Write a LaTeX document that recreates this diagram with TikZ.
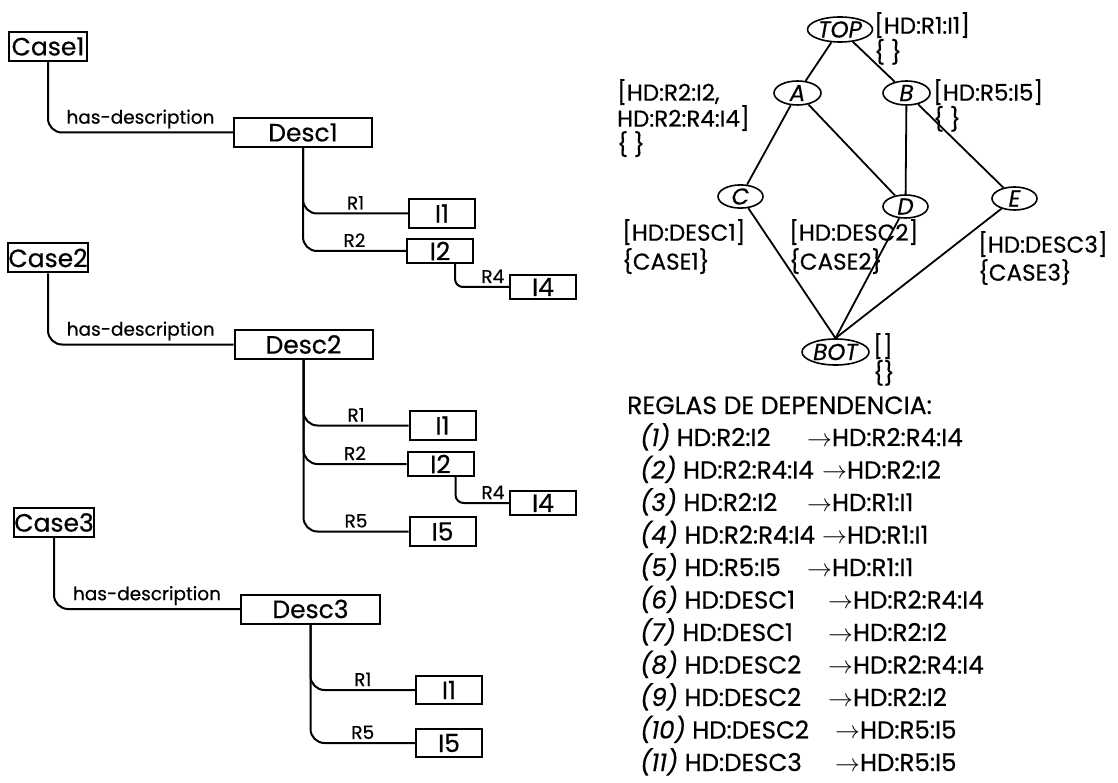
\documentclass[tikz,border=0pt]{standalone}
\usepackage{fontspec}
\setmainfont{Poppins}[FakeBold=0.5]
\usetikzlibrary{shapes.geometric}
\tikzset{
    box/.style={draw, line width=2pt, inner sep=0pt, minimum height=29pt, font=\fontsize{25}{26}\selectfont},
    casebox/.style={box, minimum width=78pt},
    descbox/.style={box, minimum width=138pt},
    itembox/.style={box, minimum width=66pt},
    link/.style={line width=2pt, rounded corners=14pt},
    rel/.style={above=3pt, inner sep=0pt, font=\fontsize{18.5}{20}\selectfont},
    cls/.style={ellipse, draw, line width=1.6pt, inner sep=0pt, font=\fontsize{23}{24}\selectfont\itshape},
    latline/.style={line width=1.8pt},
    ann/.style={anchor=north west, align=left, inner sep=0pt, font=\fontsize{23}{26}\selectfont},
    rule/.style={anchor=base west, inner sep=0pt, font=\fontsize{24.5}{26}\selectfont},
}
\begin{document}
\begin{tikzpicture}[x=1pt, y=-1pt]
    \useasboundingbox (0,0) rectangle (1118,783);
    % case 1
    \node[casebox] (case1) at (48,46.5) {Case1};
    \node[descbox] (desc1) at (303,132.5) {Desc1};
    \node[itembox] (d1i1) at (442,213.5) {I1};
    \node[itembox, minimum height=24pt] (d1i2) at (440,251) {I2};
    \node[itembox, minimum height=24pt] (d1i4) at (543,287) {I4};
    \draw[link] (case1.south) |- node[rel, pos=.75] {has-description} (desc1.west);
    \draw[link] (desc1.south) |- node[rel, pos=.75] {R1} (d1i1.west);
    \draw[link] (desc1.south) |- node[rel, pos=.75] {R2} (d1i2.west);
    \draw[link, rounded corners=8pt] ([xshift=15pt]d1i2.south) |- node[rel, pos=.85] {R4} (d1i4.west);
    % case 2
    \node[casebox] (case2) at (48,258) {Case2};
    \node[descbox] (desc2) at (303.5,344.5) {Desc2};
    \node[itembox] (d2i1) at (442.5,425.5) {I1};
    \node[itembox, minimum height=24pt] (d2i2) at (440.5,464) {I2};
    \node[itembox, minimum height=24pt] (d2i4) at (543,503) {I4};
    \node[itembox] (d2i5) at (442.5,531.5) {I5};
    \draw[link] (case2.south) |- node[rel, pos=.75] {has-description} (desc2.west);
    \draw[link] (desc2.south) |- node[rel, pos=.75] {R1} (d2i1.west);
    \draw[link] (desc2.south) |- node[rel, pos=.75] {R2} (d2i2.west);
    \draw[link, rounded corners=8pt] ([xshift=15pt]d2i2.south) |- node[rel, pos=.85] {R4} (d2i4.west);
    \draw[link] (desc2.south) |- node[rel, pos=.75] {R5} (d2i5.west);
    % case 3
    \node[casebox] (case3) at (54,522.5) {Case3};
    \node[descbox, minimum width=139pt] (desc3) at (310.5,609) {Desc3};
    \node[itembox, minimum height=28pt] (d3i1) at (449,690) {I1};
    \node[itembox, minimum height=28pt] (d3i5) at (449,743) {I5};
    \draw[link] (case3.south) |- node[rel, pos=.75] {has-description} (desc3.west);
    \draw[link] (desc3.south) |- node[rel, pos=.75] {R1} (d3i1.west);
    \draw[link] (desc3.south) |- node[rel, pos=.75] {R5} (d3i5.west);
    % lattice
    \node[cls, minimum width=65pt, minimum height=25pt] (top) at (840,29.5) {TOP};
    \node[cls, minimum width=47pt, minimum height=24pt] (a) at (797.5,93) {A};
    \node[cls, minimum width=47pt, minimum height=24pt] (b) at (906.5,93) {B};
    \node[cls, minimum width=45pt, minimum height=23pt] (c) at (740.5,196.5) {C};
    \node[cls, minimum width=45pt, minimum height=23pt] (d) at (905.5,206.5) {D};
    \node[cls, minimum width=45pt, minimum height=23pt] (e) at (1014.5,198.5) {E};
    \node[cls, minimum width=67pt, minimum height=26pt] (bot) at (835.5,352) {BOT};
    \draw[latline] (top) -- (a);
    \draw[latline] (top) -- (b);
    \draw[latline] (a) -- (c);
    \draw[latline] (a) -- (d);
    \draw[latline] (b) -- (d);
    \draw[latline] (b) -- (e);
    \draw[latline] (c) -- (bot.north);
    \draw[latline] (d) -- (bot.north);
    \draw[latline] (e) -- (bot.north);
    \node[ann, font=\fontsize{23}{24}\selectfont] (ltop) at (874,12) {[HD:R1:I1]\\\{ \}};
    \node[ann] (la) at (617,79) {[HD:R2:I2,\\HD:R2:R4:I4]\\\{ \}};
    \node[ann, font=\fontsize{23}{24}\selectfont] (lb) at (933,79) {[HD:R5:I5]\\\{ \}};
    \node[ann, font=\fontsize{23}{29}\selectfont] (lc) at (622,219) {[HD:DESC1]\\\{CASE1\}};
    \node[ann, font=\fontsize{23}{29}\selectfont] (ld) at (789,219) {[HD:DESC2]\\\{CASE2\}};
    \node[ann, font=\fontsize{23}{28}\selectfont] (le) at (978,231) {[HD:DESC3]\\\{CASE3\}};
    \node[ann, font=\fontsize{23}{24}\selectfont] (lbot) at (873,333) {[]\\\{\}};
    % rules
    \node[rule, font=\fontsize{25}{26}\selectfont] (title) at (627,414) {REGLAS DE DEPENDENCIA:};
    \foreach \n/\lhs/\ax/\rhs in {1/HD:R2:I2/807/HD:R2:R4:I4, 2/HD:R2:R4:I4/822/HD:R2:I2,
        3/HD:R2:I2/807/HD:R1:I1, 4/HD:R2:R4:I4/822/HD:R1:I1, 5/HD:R5:I5/807/HD:R1:I1,
        6/HD:DESC1/828/HD:R2:R4:I4, 7/HD:DESC1/828/HD:R2:I2, 8/HD:DESC2/828/HD:R2:R4:I4,
        9/HD:DESC2/828/HD:R2:I2, 10/HD:DESC2/835/HD:R5:I5, 11/HD:DESC3/835/HD:R5:I5}{
        \node[rule] (lhs\n) at (640,{446+32.5*(\n-1)}) {\textit{(\n)} \lhs};
        \node[rule] (rhs\n) at (\ax,{446+32.5*(\n-1)}) {$\rightarrow$\rhs};
    }
\end{tikzpicture}
\end{document}
